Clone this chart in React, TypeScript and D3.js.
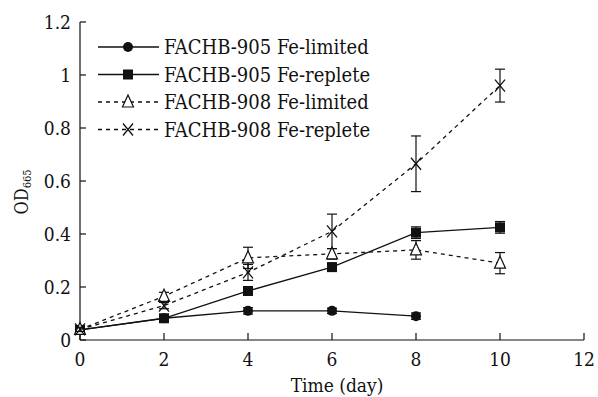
import React from 'react';
import * as d3 from 'd3';

const days = [0, 2, 4, 6, 8, 10];
const xTicks = [0, 2, 4, 6, 8, 10, 12];
const yTicks = [0, 0.2, 0.4, 0.6, 0.8, 1, 1.2];

// FACHB-905 Fe-limited (no day 10 point)
const f905Lim = [0.038, 0.082, 0.11, 0.11, 0.09];
const f905LimErr = [0.008, 0.008, 0.012, 0.01, 0.012];
const f905Rep = [0.038, 0.082, 0.185, 0.275, 0.405, 0.425];
const f905RepErr = [0.008, 0.008, 0.012, 0.015, 0.022, 0.022];
const f908Lim = [0.04, 0.165, 0.31, 0.325, 0.34, 0.29];
const f908LimErr = [0.008, 0.015, 0.04, 0.02, 0.035, 0.04];
const f908Rep = [0.04, 0.13, 0.255, 0.41, 0.665, 0.96];
const f908RepErr = [0.008, 0.012, 0.03, 0.065, 0.105, 0.062];

type Series = { name: string; vals: number[]; err: number[]; dash: string; marker: string };

const series: Series[] = [
  { name: 'FACHB-905 Fe-limited', vals: f905Lim, err: f905LimErr, dash: '', marker: 'circle' },
  { name: 'FACHB-905 Fe-replete', vals: f905Rep, err: f905RepErr, dash: '', marker: 'square' },
  { name: 'FACHB-908 Fe-limited', vals: f908Lim, err: f908LimErr, dash: '4,4', marker: 'triangle' },
  { name: 'FACHB-908 Fe-replete', vals: f908Rep, err: f908RepErr, dash: '4,4', marker: 'cross' },
];

const font = "'DejaVu Serif Condensed', 'DejaVu Serif', serif";

function Marker({ type, x, y }: { type: string; x: number; y: number }) {
  if (type === 'circle') return <circle cx={x} cy={y} r={5} fill="#111" />;
  if (type === 'square') return <rect x={x - 5} y={y - 5} width={10} height={10} fill="#111" />;
  if (type === 'triangle')
    return <path d={`M${x},${y - 7}L${x + 5.5},${y + 5}L${x - 5.5},${y + 5}Z`} fill="white" stroke="#111" strokeWidth={1.2} />;
  return <path d={`M${x - 5},${y - 6}L${x + 5},${y + 6}M${x + 5},${y - 6}L${x - 5},${y + 6}`} stroke="#111" strokeWidth={1.3} />;
}

export default function App() {
  const x = d3.scaleLinear().domain([0, 12]).range([80, 584]);
  const y = d3.scaleLinear().domain([0, 1.2]).range([340, 22]);
  const line = d3.line<number>().x((_, i) => x(days[i])).y(d => y(d));

  return (
    <svg width={598} height={397} style={{ display: 'block', position: 'absolute', left: 0, top: 0, fontFamily: font, fontStretch: 'condensed' }}>
      <rect width={598} height={397} fill="white" />
      {/* axes */}
      <line x1={80} x2={80} y1={y(1.2)} y2={340} stroke="#111" strokeWidth={1.2} />
      <line x1={80} x2={584} y1={340} y2={340} stroke="#111" strokeWidth={1.2} />
      {yTicks.map(t => (
        <g key={t}>
          <line x1={80} x2={86} y1={y(t)} y2={y(t)} stroke="#111" strokeWidth={1.2} />
          <text x={71} y={y(t) + 7} textAnchor="end" fontSize={19} fill="#111">{String(t)}</text>
        </g>
      ))}
      {xTicks.map(t => (
        <g key={t}>
          <line x1={x(t)} x2={x(t)} y1={340} y2={333} stroke="#111" strokeWidth={1.2} />
          <text x={x(t)} y={366} textAnchor="middle" fontSize={19} fill="#111">{t}</text>
        </g>
      ))}
      <text x={337} y={392} textAnchor="middle" fontSize={19} fill="#111">Time (day)</text>
      <text transform={`translate(28,192) rotate(-90)`} textAnchor="middle" fontSize={18} fill="#111">
        OD<tspan fontSize={11} dy={3}>665</tspan>
      </text>
      {/* series */}
      {series.map(s => (
        <g key={s.name}>
          <path d={line(s.vals) || ''} fill="none" stroke="#111" strokeWidth={1.3} strokeDasharray={s.dash} />
          {s.vals.map((v, i) => {
            const cx = x(days[i]);
            const top = y(v + s.err[i]);
            const bot = y(v - s.err[i]);
            return (
              <g key={i}>
                <line x1={cx} x2={cx} y1={top} y2={bot} stroke="#111" strokeWidth={1.2} />
                <line x1={cx - 5} x2={cx + 5} y1={top} y2={top} stroke="#111" strokeWidth={1.2} />
                <line x1={cx - 5} x2={cx + 5} y1={bot} y2={bot} stroke="#111" strokeWidth={1.2} />
                <Marker type={s.marker} x={cx} y={y(v)} />
              </g>
            );
          })}
        </g>
      ))}
      {/* legend */}
      {series.map((s, i) => {
        const ly = 47 + i * 27.5;
        return (
          <g key={s.name}>
            <line x1={98} x2={159} y1={ly} y2={ly} stroke="#111" strokeWidth={1.3} strokeDasharray={s.dash} />
            <Marker type={s.marker} x={128} y={ly} />
            <text x={164} y={ly + 7} fontSize={20} fill="#111">{s.name}</text>
          </g>
        );
      })}
    </svg>
  );
}
